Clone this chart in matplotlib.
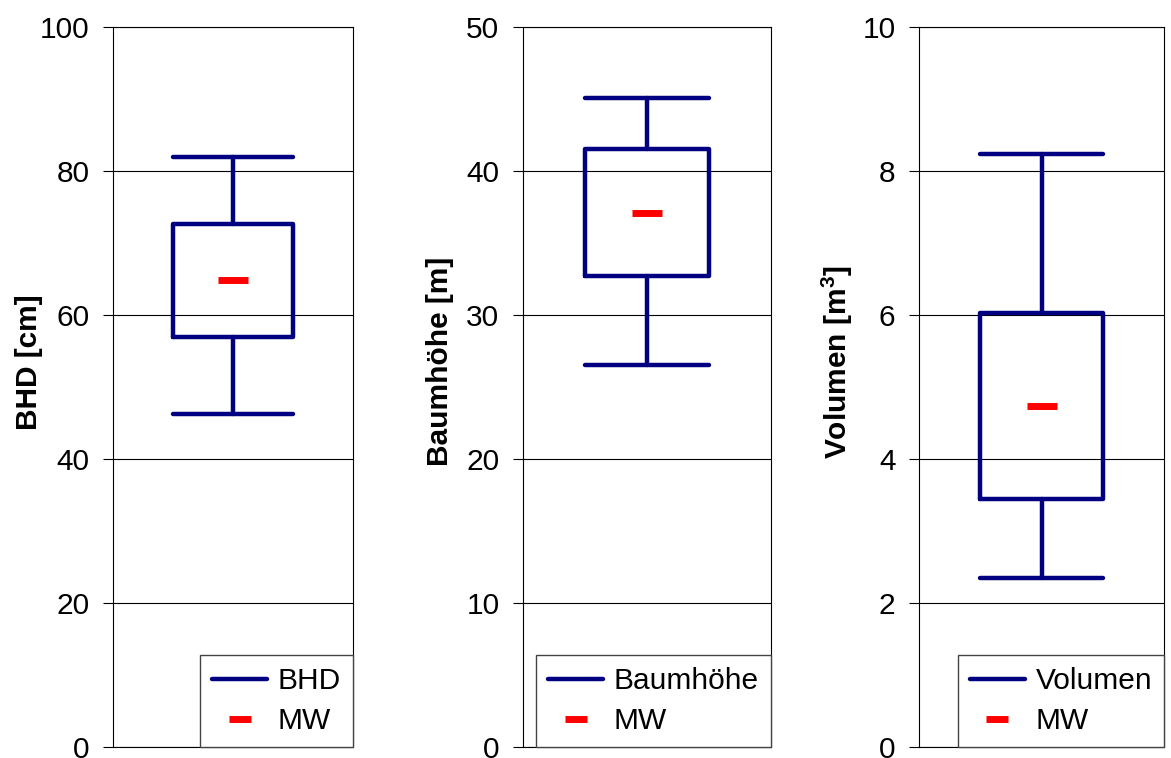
"""Box plots of BHD, tree height and stem volume with mean markers."""

import matplotlib.pyplot as plt
from matplotlib.lines import Line2D

plt.rcParams["font.family"] = ["Liberation Sans", "DejaVu Sans"]
plt.rcParams["mathtext.fontset"] = "custom"
plt.rcParams["mathtext.rm"] = "Liberation Sans"
plt.rcParams["mathtext.bf"] = "Liberation Sans:bold"

# summary statistics per variable
names = ["BHD", "Baumhöhe", "Volumen"]
ylabels = ["BHD [cm]", "Baumhöhe [m]", r"Volumen [m$^{\mathbf{3}}$]"]
ymax = [100, 50, 10]
ystep = [20, 10, 2]
whislo = [46.2, 26.5, 2.35]
q1 = [56.9, 32.7, 3.45]
q3 = [72.6, 41.5, 6.03]
whishi = [81.9, 45.1, 8.24]
mean = [64.9, 37.1, 4.74]

NAVY = "#000080"
FS = 21.5

fig = plt.figure(figsize=(11.71, 7.58), dpi=100)
W, H = 1171, 758
# plot areas in pixels: (left, right)
areas = [(113, 353), (523, 771), (919, 1164)]
label_x = [-0.29, -0.28, -0.26]

for i, (x0, x1) in enumerate(areas):
    ax = fig.add_axes([x0 / W, (H - 747) / H, (x1 - x0) / W, 720 / H])
    stats = [{
        "whislo": whislo[i], "q1": q1[i], "med": mean[i],
        "q3": q3[i], "whishi": whishi[i], "mean": mean[i], "fliers": [],
    }]
    line = dict(color=NAVY, linewidth=3.2, solid_capstyle="round")
    ax.bxp(stats, positions=[0.5], widths=0.5, capwidths=0.5,
           showmeans=True, manage_ticks=False,
           boxprops=line, whiskerprops=line, capprops=line,
           medianprops=dict(visible=False),
           meanprops=dict(marker="_", markersize=21, markeredgewidth=5,
                          markeredgecolor="red", color="red"))

    ax.set_xlim(0, 1)
    ax.set_ylim(0, ymax[i])
    ax.set_yticks(range(0, ymax[i] + 1, ystep[i]))
    ax.set_xticks([])
    ax.yaxis.grid(True, color="black", linewidth=0.8)
    ax.set_axisbelow(True)
    for sp in ax.spines.values():
        sp.set_linewidth(0.8)
        sp.set_color("black")
    ax.tick_params(axis="y", direction="out", length=7, width=0.8,
                   pad=10, labelsize=FS)

    ax.set_ylabel(ylabels[i], fontsize=FS, fontweight="bold")
    ax.yaxis.set_label_coords(label_x[i], 0.535)

    handles = [
        Line2D([], [], color=NAVY, linewidth=3.2, solid_capstyle="round"),
        Line2D([], [], linestyle="none", marker="_", markersize=16,
               markeredgewidth=5, markeredgecolor="red"),
    ]
    leg = ax.legend(handles, [names[i], "MW"], loc="lower right",
                    borderaxespad=0, fontsize=FS, fancybox=False,
                    framealpha=1, edgecolor="#444444", handlelength=1.85,
                    handletextpad=0.35, borderpad=0.4, labelspacing=0.4)
    leg.get_frame().set_linewidth(1.0)

fig.savefig("out.png", dpi=100)
